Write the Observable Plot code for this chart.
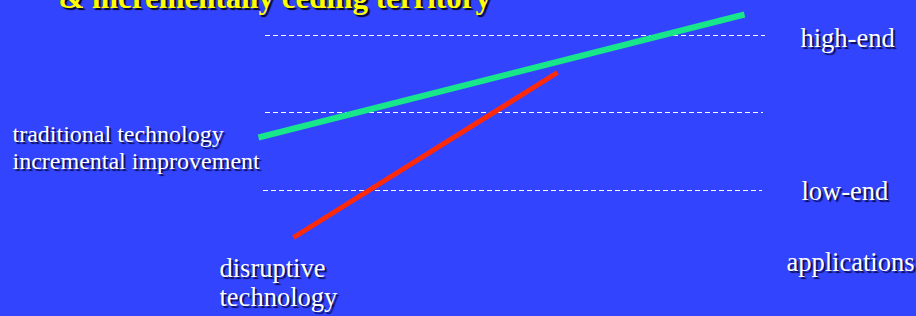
<!DOCTYPE html>
<html>
<head>
<meta charset="utf-8">
<script src="https://cdn.jsdelivr.net/npm/d3@7"></script>
<script src="https://cdn.jsdelivr.net/npm/@observablehq/plot@0.6"></script>
<style>
  html, body { margin: 0; padding: 0; background: #3344FF; overflow: hidden; }
  .lbl text { text-shadow: 2px 2px 1px rgba(0,0,40,0.8); }
  .ttl text { text-shadow: 2px 2px 1px rgba(0,0,0,0.9); }
</style>
</head>
<body>
<div id="chart"></div>
<script>
// Coordinates: x = horizontal position (0..916), y = "performance" measured upward (0..316)
const levelValues = [281, 204, 126];           // dashed market-level lines
const levelStart = [265, 265, 263];
const levelEnd = [765, 763, 762];

const traditional = [{x: 258, y: 179}, {x: 744, y: 302}];   // green line
const disruptive = [{x: 293, y: 79}, {x: 557, y: 244}];     // red line

const labelText = ["traditional technology", "incremental improvement", "disruptive", "technology", "high-end", "low-end", "applications"];
const labelX = [12, 12, 219, 219, 800, 801, 786];
const labelY = [175, 148, 40, 11, 270, 117, 46];
const labelSize = [24, 24, 26.5, 26.5, 26.5, 26.5, 26.5];
const labels = labelText.map((t, i) => ({text: t, x: labelX[i], y: labelY[i], size: labelSize[i]}));

const title = [{x: 58, y: 309, text: "& incrementally ceding territory"}];

const levels = levelValues.map((v, i) => ({y: v, x1: levelStart[i], x2: levelEnd[i]}));

const font = "'Liberation Serif', 'Times New Roman', serif";

const chart = Plot.plot({
  width: 916,
  height: 316,
  margin: 0,
  x: {domain: [0, 916], axis: null},
  y: {domain: [0, 316], axis: null},
  style: {background: "#3344FF", overflow: "visible"},
  marks: [
    Plot.ruleY(levels, {y: "y", x1: "x1", x2: "x2", stroke: "white", strokeWidth: 1, strokeDasharray: "5,3"}),
    Plot.line(traditional, {x: "x", y: "y", stroke: "#18E68A", strokeWidth: 6, strokeLinecap: "butt"}),
    Plot.line(disruptive, {x: "x", y: "y", stroke: "#FF2A0A", strokeWidth: 5, strokeLinecap: "butt"}),
    Plot.text(labels.filter(d => d.size === 24), {x: "x", y: "y", text: "text", textAnchor: "start", lineAnchor: "bottom", fontFamily: font, fontSize: 24, fill: "white"}),
    Plot.text(labels.filter(d => d.size !== 24), {x: "x", y: "y", text: "text", textAnchor: "start", lineAnchor: "bottom", fontFamily: font, fontSize: 26.5, fill: "white"}),
    Plot.text(title, {x: "x", y: "y", text: "text", textAnchor: "start", lineAnchor: "bottom", fontFamily: font, fontWeight: "bold", fontSize: 31, fill: "#FFFF00"})
  ]
});
// tag the text layers for their drop shadows
const gs = chart.querySelectorAll("g[aria-label='text']");
if (gs[0]) gs[0].classList.add("lbl");
if (gs[1]) gs[1].classList.add("lbl");
if (gs[2]) gs[2].classList.add("ttl");
document.getElementById("chart").appendChild(chart);
</script>
</body>
</html>
